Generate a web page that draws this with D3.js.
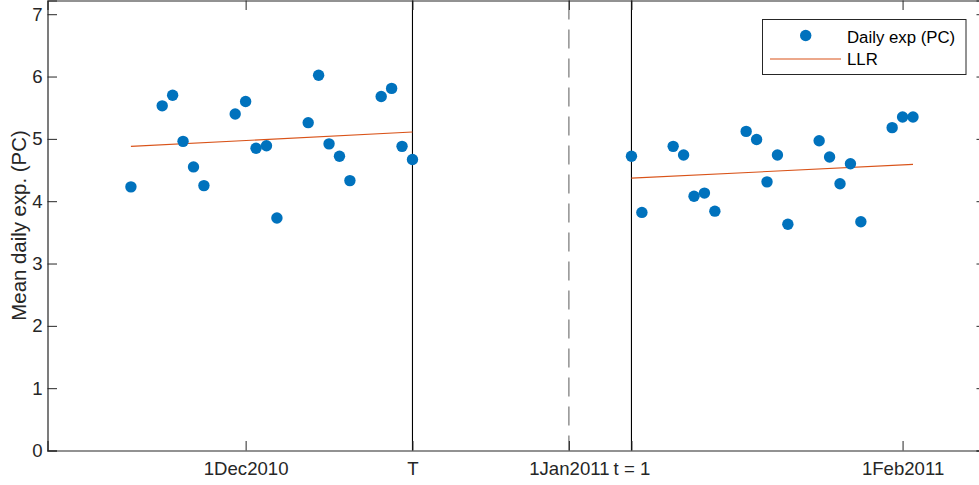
<!DOCTYPE html>
<html><head><meta charset="utf-8">
<script src="https://cdn.jsdelivr.net/npm/d3@7"></script>
<style>html,body{margin:0;padding:0;background:#fff;overflow:hidden}</style>
</head><body>
<svg id="chart" width="979" height="485"></svg>
<script>
// Days relative to the cutoff T (T = 17 Dec 2010)
const preDays = [-27,-24,-23,-22,-21,-20,-17,-16,-15,-14,-13,-10,-9,-8,-7,-6,-3,-2,-1,0];
const preValues = [4.23,5.53,5.70,4.96,4.55,4.25,5.40,5.60,4.85,4.89,3.73,5.26,6.02,4.92,4.72,4.33,5.68,5.81,4.88,4.67];
const postDays = [21,22,25,26,27,28,29,32,33,34,35,36,39,40,41,42,43,46,47,48];
const postValues = [4.72,3.82,4.88,4.74,4.08,4.13,3.84,5.12,4.99,4.31,4.74,3.63,4.97,4.71,4.28,4.60,3.67,5.18,5.35,5.35];
const llrPreDays = [-27, 0];
const llrPreValues = [4.88, 5.11];
const llrPostDays = [21, 48];
const llrPostValues = [4.37, 4.59];
const xTickDays = [-16, 0, 15, 21, 47];
const xTickLabels = ["1Dec2010", "T", "1Jan2011", "t = 1", "1Feb2011"];
const yTicks = [0,1,2,3,4,5,6,7];
const solidLineDays = [0, 21];
const dashedLineDays = [15];

const svg = d3.select("#chart");
const font = "'Liberation Sans', Arial, Helvetica, sans-serif";
const axisColor = "#262626";
const L = 47.5, R = 986, T = 0.5, B = 450.5;
const x = d3.scaleLinear().domain([-35, 55]).range([L, R]);
const y = d3.scaleLinear().domain([0, 7.22]).range([B, T]);

// vertical reference lines
svg.selectAll("line.vsolid").data(solidLineDays).join("line")
  .attr("x1", d => x(d)).attr("x2", d => x(d)).attr("y1", T).attr("y2", B)
  .attr("stroke", "#000").attr("stroke-width", 1.1);
svg.selectAll("line.vdash").data(dashedLineDays).join("line")
  .attr("x1", d => x(d)).attr("x2", d => x(d)).attr("y1", T).attr("y2", B)
  .attr("stroke", "#7f7f7f").attr("stroke-width", 1.3).attr("stroke-dasharray", "19,10");

// LLR lines
const lineGen = d3.line().x(d => x(d[0])).y(d => y(d[1]));
[[llrPreDays, llrPreValues], [llrPostDays, llrPostValues]].forEach(([ds, vs]) => {
  svg.append("path").attr("d", lineGen(ds.map((d, i) => [d, vs[i]])))
    .attr("fill", "none").attr("stroke", "#D95319").attr("stroke-width", 1.1);
});

// points
const pts = preDays.map((d, i) => [d, preValues[i]]).concat(postDays.map((d, i) => [d, postValues[i]]));
svg.selectAll("circle.pt").data(pts).join("circle")
  .attr("cx", d => x(d[0])).attr("cy", d => y(d[1])).attr("r", 5.7)
  .attr("fill", "#0072BD");

// axes
const gL = svg.append("g").attr("transform", `translate(${L},0)`)
  .call(d3.axisLeft(y).tickValues(yTicks).tickSize(-9.5).tickPadding(5).tickFormat(d3.format("d")));
const gR = svg.append("g").attr("transform", `translate(${R},0)`)
  .call(d3.axisRight(y).tickValues(yTicks).tickSize(-9.5).tickFormat(""));
const gB = svg.append("g").attr("transform", `translate(0,${B})`)
  .call(d3.axisBottom(x).tickValues(xTickDays).tickSize(-9.5).tickPadding(11).tickFormat((d, i) => xTickLabels[i]));
const gT = svg.append("g").attr("transform", `translate(0,${T})`)
  .call(d3.axisTop(x).tickValues(xTickDays).tickSize(-9.5).tickFormat(""));
[gL, gR, gB, gT].forEach(g => {
  g.selectAll("path.domain").attr("stroke", axisColor).attr("stroke-width", 1.2);
  g.selectAll(".tick line").attr("stroke", axisColor).attr("stroke-width", 1);
  g.selectAll("text").attr("fill", axisColor).style("font-family", font).style("font-size", "18.6px");
});
gB.selectAll(".tick text").attr("dy", "0.71em");

// y label
svg.append("text").attr("transform", `translate(26,${(T + B) / 2}) rotate(-90)`)
  .attr("text-anchor", "middle").attr("fill", axisColor)
  .style("font-family", font).style("font-size", "20.4px")
  .text("Mean daily exp. (PC)");

// legend
const lg = svg.append("g");
lg.append("rect").attr("x", 762.5).attr("y", 19.5).attr("width", 203.5).attr("height", 55)
  .attr("fill", "#fff").attr("stroke", axisColor).attr("stroke-width", 1);
lg.append("circle").attr("cx", 805.7).attr("cy", 35.5).attr("r", 5.7).attr("fill", "#0072BD");
lg.append("line").attr("x1", 770).attr("x2", 841).attr("y1", 59).attr("y2", 59)
  .attr("stroke", "#D95319").attr("stroke-width", 1.1);
lg.append("text").attr("x", 847).attr("y", 42.5).attr("fill", "#000")
  .style("font-family", font).style("font-size", "16.8px").text("Daily exp (PC)");
lg.append("text").attr("x", 847).attr("y", 65).attr("fill", "#000")
  .style("font-family", font).style("font-size", "16.8px").text("LLR");
</script>
</body></html>
